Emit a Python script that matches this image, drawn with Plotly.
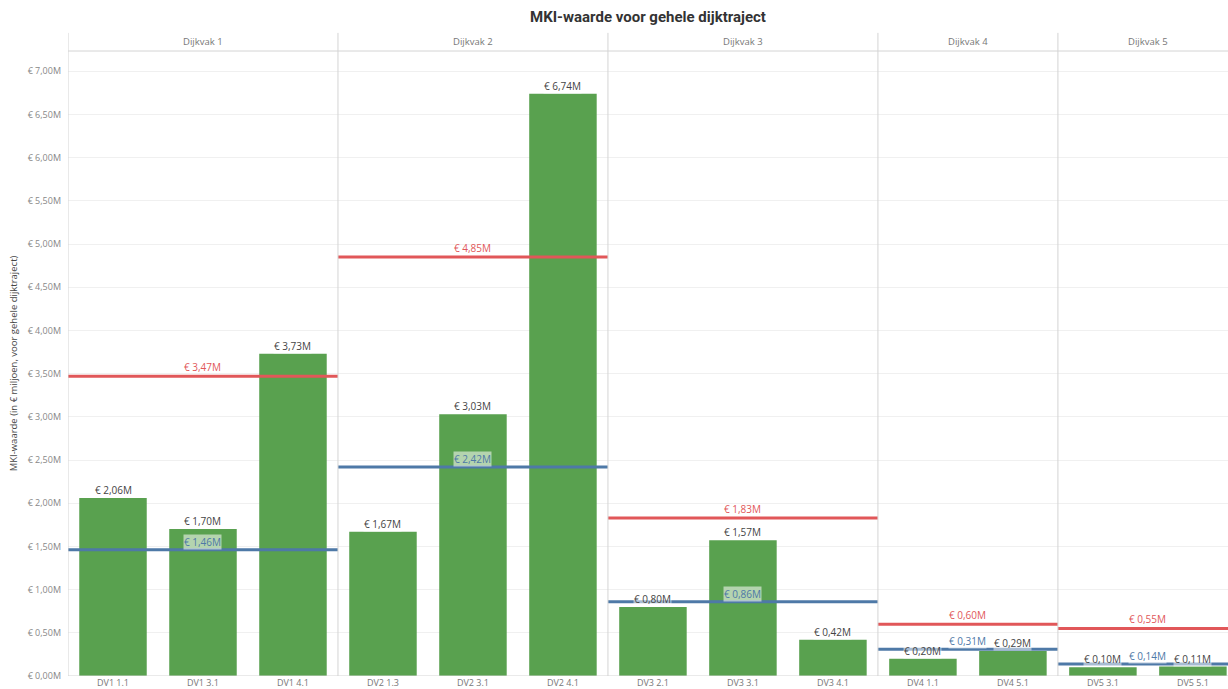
import plotly.graph_objects as go

# Categories (measures) per dike section
categories = ["DV1 1.1", "DV1 3.1", "DV1 4.1",
              "DV2 1.3", "DV2 3.1", "DV2 4.1",
              "DV3 2.1", "DV3 3.1", "DV3 4.1",
              "DV4 1.1", "DV4 5.1",
              "DV5 3.1", "DV5 5.1"]
mki_values = [2.06, 1.70, 3.73,
              1.67, 3.03, 6.74,
              0.80, 1.57, 0.42,
              0.20, 0.29,
              0.10, 0.11]

sections = ["Dijkvak 1", "Dijkvak 2", "Dijkvak 3", "Dijkvak 4", "Dijkvak 5"]
section_sizes = [3, 3, 3, 2, 2]
red_line_values = [3.47, 4.85, 1.83, 0.60, 0.55]
blue_line_values = [1.46, 2.42, 0.86, 0.31, 0.14]

y_tick_values = [0, 0.5, 1.0, 1.5, 2.0, 2.5, 3.0, 3.5, 4.0, 4.5, 5.0, 5.5, 6.0, 6.5, 7.0]


def euro(v):
    return "€ " + f"{v:.2f}".replace(".", ",") + "M"


GREEN = "#59a14f"
RED = "#e15759"
BLUE = "#4e79a7"
FONT = "Open Sans, DejaVu Sans, sans-serif"

x_pos = list(range(len(categories)))
x_max = 12.39

fig = go.Figure()

fig.add_trace(go.Bar(
    x=x_pos, y=mki_values, width=0.75,
    marker=dict(color=GREEN, line=dict(width=0)),
    hoverinfo="skip", showlegend=False,
))

# Section boundaries in category units
bounds = []
start = 0
for n in section_sizes:
    bounds.append((start - 0.5, start + n - 0.5))
    start += n

annotations = []
shapes = []

for (x0, x1), name, rv, bv in zip(bounds, sections, red_line_values, blue_line_values):
    x1c = min(x1, x_max)
    center = (x0 + x1) / 2
    fig.add_trace(go.Scatter(x=[x0, x1c], y=[rv, rv], mode="lines",
                             line=dict(color=RED, width=3),
                             hoverinfo="skip", showlegend=False))
    fig.add_trace(go.Scatter(x=[x0, x1c], y=[bv, bv], mode="lines",
                             line=dict(color=BLUE, width=3),
                             hoverinfo="skip", showlegend=False))
    annotations.append(dict(x=center, y=rv, xref="x", yref="y", text=euro(rv),
                            showarrow=False, yanchor="bottom", yshift=0,
                            font=dict(family=FONT, size=10, color=RED)))
    annotations.append(dict(x=center, y=bv, xref="x", yref="y", text=euro(bv),
                            showarrow=False, yanchor="bottom", yshift=0,
                            bgcolor="rgba(255,255,255,0.55)", borderpad=0,
                            font=dict(family=FONT, size=10, color=BLUE)))
    # section header
    annotations.append(dict(x=center, y=1.015, xref="x", yref="paper",
                            text=name, showarrow=False, yanchor="middle",
                            font=dict(family=FONT, size=9.5, color="#777")))
    # section separator
    shapes.append(dict(type="line", xref="x", yref="paper", x0=x0, x1=x0,
                       y0=0, y1=1.029, line=dict(color="#d4d4d4", width=1)))

# header underline
shapes.append(dict(type="line", xref="paper", yref="paper", x0=0, x1=1,
                   y0=1, y1=1, line=dict(color="#d4d4d4", width=1)))
# baseline
shapes.append(dict(type="line", xref="paper", yref="y", x0=0, x1=1,
                   y0=0, y1=0, line=dict(color="#d4d4d4", width=1)))

for i, v in enumerate(mki_values):
    annotations.append(dict(x=i, y=v, xref="x", yref="y", text=euro(v),
                            showarrow=False, yanchor="bottom", yshift=0,
                            bgcolor="rgba(255,255,255,0.5)", borderpad=0,
                            font=dict(family=FONT, size=10, color="#444")))

fig.update_layout(
    width=1228, height=689,
    margin=dict(l=68, r=0, t=51, b=13),
    paper_bgcolor="white", plot_bgcolor="white",
    title=dict(text="<b>MKI-waarde voor gehele dijktraject</b>",
               x=(68 + 1228) / 2 / 1228, xanchor="center", y=0.975, yanchor="middle",
               font=dict(family="Liberation Sans Narrow, Roboto, sans-serif", size=15, color="#333")),
    xaxis=dict(range=[-0.5, x_max], tickvals=x_pos, ticktext=categories,
               showgrid=False, zeroline=False, showline=False, ticks="",
               tickfont=dict(family=FONT, size=9, color="#777")),
    yaxis=dict(range=[0, 7.234], tickvals=y_tick_values,
               ticktext=[euro(v) for v in y_tick_values],
               showgrid=True, gridcolor="#f0f0f0", zeroline=False, showline=False,
               ticks="", ticklabelstandoff=6,
               tickfont=dict(family=FONT, size=9, color="#888"),
               title=dict(text="MKI-waarde (in € miljoen, voor gehele dijktraject)",
                          standoff=8, font=dict(family=FONT, size=9.5, color="#444"))),
    annotations=annotations,
    shapes=shapes,
    showlegend=False,
)

fig.write_html("out.html")
